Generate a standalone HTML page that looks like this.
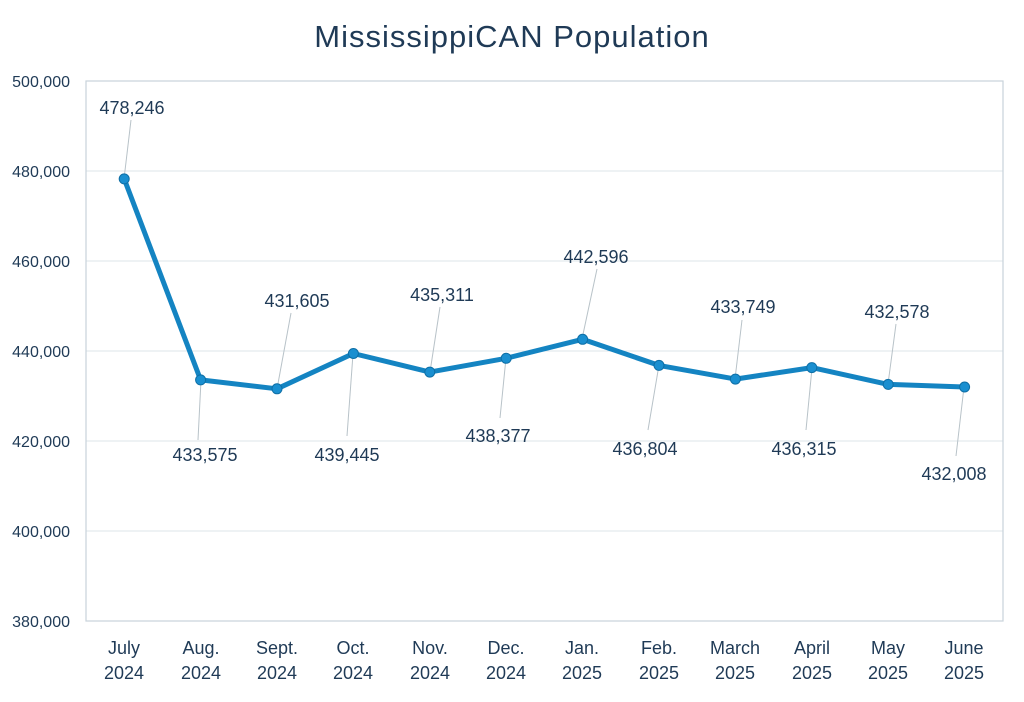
<!DOCTYPE html>
<html><head><meta charset="utf-8"><style>
body{margin:0;background:#fff}
svg text{font-family:"Liberation Sans",sans-serif;fill:#1f3a56}
</style></head><body>
<svg width="1024" height="697" viewBox="0 0 1024 697" xmlns="http://www.w3.org/2000/svg">
<rect width="1024" height="697" fill="#fff"/>
<text x="512" y="47" font-size="31" text-anchor="middle" letter-spacing="1">MississippiCAN Population</text>
<g stroke="#dde5ea" stroke-width="1">
<line x1="86" y1="171" x2="1003" y2="171"/><line x1="86" y1="261" x2="1003" y2="261"/>
<line x1="86" y1="351" x2="1003" y2="351"/><line x1="86" y1="441" x2="1003" y2="441"/>
<line x1="86" y1="531" x2="1003" y2="531"/>
</g>
<rect x="86" y="81" width="917" height="540" fill="none" stroke="#c8d3da" stroke-width="1.2"/>
<g font-size="16" text-anchor="end">
<text x="70" y="87">500,000</text><text x="70" y="177">480,000</text><text x="70" y="267">460,000</text>
<text x="70" y="357">440,000</text><text x="70" y="447">420,000</text><text x="70" y="537">400,000</text>
<text x="70" y="627">380,000</text>
</g>
<g font-size="18" text-anchor="middle">
<text x="124" y="654">July</text><text x="124" y="679">2024</text>
<text x="201" y="654">Aug.</text><text x="201" y="679">2024</text>
<text x="277" y="654">Sept.</text><text x="277" y="679">2024</text>
<text x="353" y="654">Oct.</text><text x="353" y="679">2024</text>
<text x="430" y="654">Nov.</text><text x="430" y="679">2024</text>
<text x="506" y="654">Dec.</text><text x="506" y="679">2024</text>
<text x="582" y="654">Jan.</text><text x="582" y="679">2025</text>
<text x="659" y="654">Feb.</text><text x="659" y="679">2025</text>
<text x="735" y="654">March</text><text x="735" y="679">2025</text>
<text x="812" y="654">April</text><text x="812" y="679">2025</text>
<text x="888" y="654">May</text><text x="888" y="679">2025</text>
<text x="964" y="654">June</text><text x="964" y="679">2025</text>
</g>
<g stroke="#b8c2c8" stroke-width="1">
<line x1="124" y1="179" x2="131" y2="120"/>
<line x1="201" y1="380" x2="198" y2="440"/>
<line x1="277" y1="389" x2="291" y2="313"/>
<line x1="353" y1="354" x2="347" y2="436"/>
<line x1="430" y1="372" x2="440" y2="307"/>
<line x1="506" y1="358" x2="500" y2="418"/>
<line x1="582" y1="339" x2="597" y2="269"/>
<line x1="659" y1="365" x2="648" y2="430"/>
<line x1="735" y1="379" x2="742" y2="320"/>
<line x1="812" y1="368" x2="806" y2="430"/>
<line x1="888" y1="384" x2="896" y2="324"/>
<line x1="964" y1="387" x2="956" y2="456"/>
</g>
<polyline fill="none" stroke="#1484c2" stroke-width="5" stroke-linejoin="round" points="124.2,178.9 200.6,379.9 277,388.8 353.4,353.5 429.8,372.1 506.2,358.3 582.6,339.3 659,365.4 735.4,379.1 811.8,367.6 888.2,384.4 964.6,387"/>
<g fill="#1a8fd0" stroke="#0e6fa6" stroke-width="1">
<circle cx="124.2" cy="178.9" r="5"/><circle cx="200.6" cy="379.9" r="5"/><circle cx="277" cy="388.8" r="5"/>
<circle cx="353.4" cy="353.5" r="5"/><circle cx="429.8" cy="372.1" r="5"/><circle cx="506.2" cy="358.3" r="5"/>
<circle cx="582.6" cy="339.3" r="5"/><circle cx="659" cy="365.4" r="5"/><circle cx="735.4" cy="379.1" r="5"/>
<circle cx="811.8" cy="367.6" r="5"/><circle cx="888.2" cy="384.4" r="5"/><circle cx="964.6" cy="387" r="5"/>
</g>
<g font-size="18" text-anchor="middle">
<text x="132" y="114">478,246</text>
<text x="205" y="461">433,575</text>
<text x="297" y="307">431,605</text>
<text x="347" y="461">439,445</text>
<text x="442" y="301">435,311</text>
<text x="498" y="442">438,377</text>
<text x="596" y="263">442,596</text>
<text x="645" y="455">436,804</text>
<text x="743" y="313">433,749</text>
<text x="804" y="455">436,315</text>
<text x="897" y="318">432,578</text>
<text x="954" y="480">432,008</text>
</g>
</svg>
</body></html>
